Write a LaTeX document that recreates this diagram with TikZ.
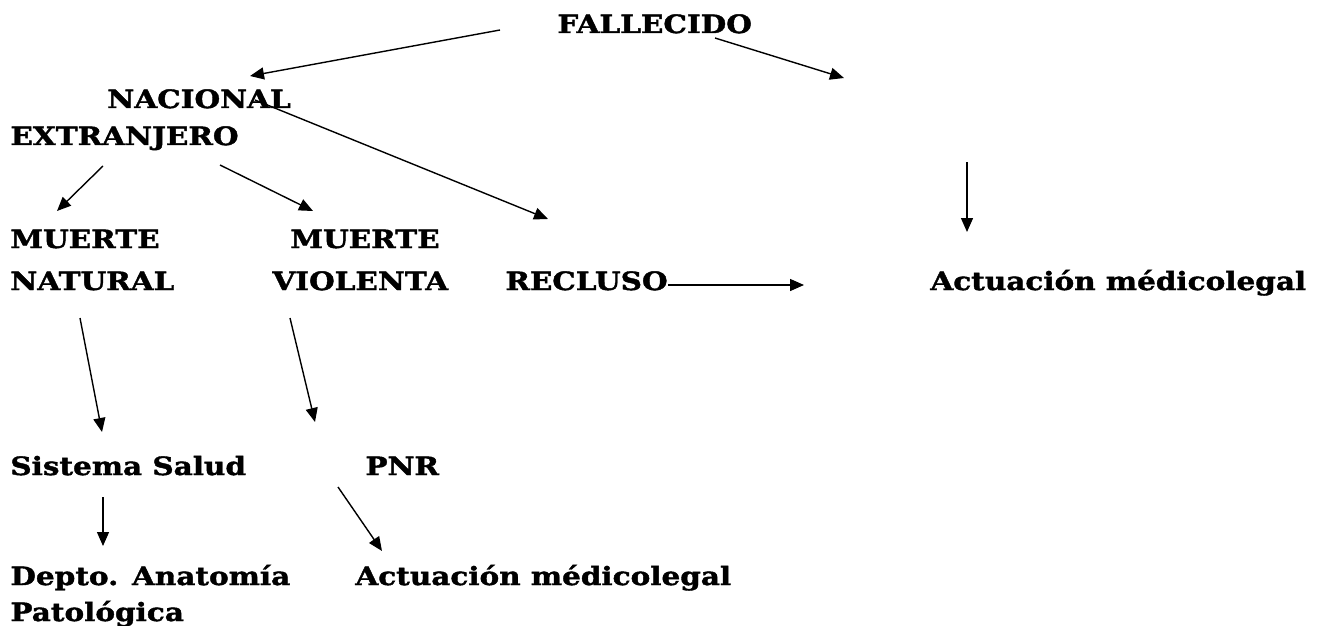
\documentclass[tikz,border=0pt]{standalone}
\usepackage{fontspec}
\setmainfont{DejaVu Serif}[FakeStretch=1.17,BoldFeatures={FakeBold=1.6}]
\usetikzlibrary{arrows.meta}
\begin{document}
\begin{tikzpicture}[x=0.5pt,y=-0.5pt,
  lbl/.style={anchor=base west,inner sep=0pt,font=\fontsize{12.6}{14}\selectfont\bfseries},
  arr/.style={-{Triangle[length=7pt,width=6pt]},line width=0.7pt}]
\useasboundingbox (0,0) rectangle (1317,626);
\node[lbl] (fall) at (557,33) {FALLECIDO};
\node[lbl] (nac) at (107,108) {NACIONAL};
\node[lbl] (ext) at (10,145) {EXTRANJERO};
\node[lbl] (mn1) at (10,248) {MUERTE};
\node[lbl] (mn2) at (10,290) {NATURAL};
\node[lbl] (mv1) at (290,248) {MUERTE};
\node[lbl] (mv2) at (272,290) {VIOLENTA};
\node[lbl] (rec) at (505,290) {RECLUSO};
\node[lbl] (act1) at (930,290) {Actuación médicolegal};
\node[lbl] (sis) at (10,475) {Sistema Salud};
\node[lbl] (pnr) at (365,475) {PNR};
\node[lbl] (dep) at (10,585) {Depto. Anatomía};
\node[lbl] (pat) at (10,621) {Patológica};
\node[lbl] (act2) at (355,585) {Actuación médicolegal};
% connector ends
\coordinate (a1s) at (500,30);  \coordinate (a1e) at (250,76);
\coordinate (a2s) at (715,38);  \coordinate (a2e) at (844,78);
\coordinate (a3s) at (255,100); \coordinate (a3e) at (548,219);
\coordinate (a4s) at (103,166); \coordinate (a4e) at (57,211);
\coordinate (a5s) at (220,165); \coordinate (a5e) at (313,211);
\coordinate (a6s) at (967,162); \coordinate (a6e) at (967,232);
\coordinate (a7s) at (668,285); \coordinate (a7e) at (804,285);
\coordinate (a8s) at (80,318);  \coordinate (a8e) at (102,432);
\coordinate (a9s) at (290,318); \coordinate (a9e) at (315,422);
\coordinate (a10s) at (103,497); \coordinate (a10e) at (103,546);
\coordinate (a11s) at (338,487); \coordinate (a11e) at (382,551);
\foreach \i in {1,...,11} \draw[arr] (a\i s) -- (a\i e);
\end{tikzpicture}
\end{document}
